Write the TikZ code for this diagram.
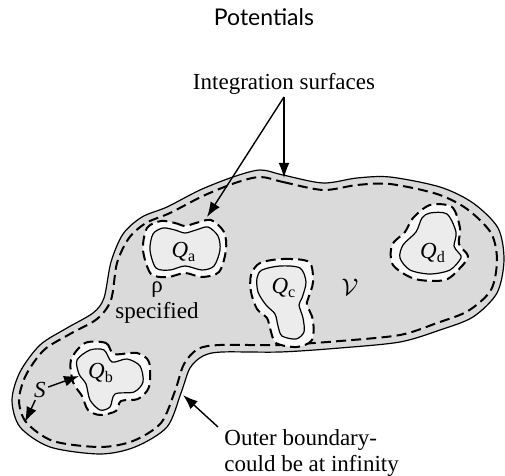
\documentclass[tikz,border=0pt]{standalone}
\usepackage{fontspec}
\setmainfont{Liberation Serif}
\newfontfamily\titlefont{Lato}
\usetikzlibrary{arrows.meta}
\definecolor{region}{gray}{0.855}
\definecolor{hueco}{gray}{0.925}
\definecolor{anillo}{gray}{0.975}

\begin{document}
\begin{tikzpicture}[x=0.5pt,y=-0.5pt,
    borde/.style={line width=0.6pt},
    superficie/.style={line width=1pt,dash pattern=on 5pt off 2.6pt},
    flecha/.style={line width=0.7pt,-{Latex[length=7.5pt,width=5.4pt]}},
    texto/.style={font=\fontsize{11.5}{13}\selectfont,inner sep=1pt}]
    \useasboundingbox (0,0) rectangle (505,476);

    % Titulo
    \node[font=\titlefont\fontsize{11.5}{13}\selectfont] (titulo) at (264,17) {Potentials};

    % Region V y su contorno
    \draw[borde,fill=region] plot[smooth cycle] coordinates {(260,170) (283,175) (323,183) (357,178) (390,177) (440,187) (473,203) (498,228) (504,260) (497,293) (473,317) (440,330) (400,342) (340,348) (280,352) (222,352) (203,356) (190,368) (181,393) (167,427) (135,447) (100,454) (50,447) (20,427) (12,400) (20,372) (40,345) (67,328) (93,313) (104,298) (111,262) (123,234) (142,217) (167,207) (200,190) (233,177)};
    \draw[superficie] plot[smooth cycle] coordinates {(260,177) (283,182) (323,190) (357,185) (390,184) (437,194) (467,209) (491,233) (497,260) (491,290) (468,311) (437,323) (400,335) (340,341) (280,345) (220,345) (198,349) (184,364) (175,391) (161,423) (133,441) (100,447) (53,441) (26,422) (19,400) (26,375) (44,350) (70,334) (97,319) (111,300) (117,263) (129,238) (146,223) (170,213) (203,196) (235,183)};

    % Carga Q_a
    \draw[superficie,fill=anillo] plot[smooth cycle] coordinates {(161,221) (175,223) (185,226) (196,223) (211,220) (224,232) (226,250) (219,272) (202,277) (185,273) (168,277) (151,274) (143,250) (147,228)};
    \draw[borde,fill=hueco] plot[smooth cycle] coordinates {(163,228) (175,230) (185,233) (196,230) (208,227) (218,236) (220,250) (214,266) (202,270) (185,266) (170,270) (156,268) (150,250) (153,234)};
    \node[texto] (qa) at (184,252) {\textit{Q}\textsubscript{a}};

    % Carga Q_b
    \draw[superficie,fill=anillo] plot[smooth cycle] coordinates {(85,343) (106,343) (114,354) (137,353) (149,362) (149,387) (138,399) (121,401) (116,411) (100,415) (88,410) (82,396) (73,382) (71,360)};
    \draw[borde,fill=hueco] plot[smooth cycle] coordinates {(90,350) (104,350) (112,362) (127,359) (140,366) (143,382) (134,392) (115,394) (110,407) (100,410) (90,400) (86,384) (79,374) (77,360)};
    \node[texto] (qb) at (101,373) {\textit{Q}\textsubscript{b}};

    % Carga Q_c
    \draw[superficie,fill=anillo] plot[smooth cycle] coordinates {(260,263) (283,259) (309,262) (313,282) (308,299) (307,305) (313,320) (312,340) (297,347) (276,343) (270,328) (267,318) (257,309) (251,292) (251,275)};
    \draw[borde,fill=hueco] plot[smooth cycle] coordinates {(262,270) (280,266) (300,268) (306,282) (302,298) (299,305) (303,318) (304,332) (296,339) (282,336) (278,326) (275,314) (266,305) (258,292) (257,278)};
    \node[texto] (qc) at (284,288) {\textit{Q}\textsubscript{c}};

    % Carga Q_d
    \draw[superficie,fill=anillo] plot[smooth cycle] coordinates {(430,205) (452,207) (460,228) (459,244) (468,256) (461,267) (445,280) (415,279) (393,265) (392,245) (405,232) (413,218)};
    \draw[borde,fill=hueco] plot[smooth cycle] coordinates {(430,213) (447,214) (456,232) (454,246) (458,252) (461,258) (450,270) (430,274) (410,270) (400,258) (403,245) (416,232) (422,218)};
    \node[texto] (qd) at (433,253) {\textit{Q}\textsubscript{d}};

    % Textos dentro de la region
    \node[texto] (vol) at (350,287) {$\mathcal{V}$};
    \node[texto,align=center] (rho) at (157,303) {ρ\\specified};
    \node[texto] (s) at (40,390) {\textit{S}};

    % Rotulos y flechas
    \node[texto] (integ) at (284,84) {Integration surfaces};
    \coordinate (qatip) at (207,217);
    \coordinate (outtip) at (284,178);
    \draw[flecha] (integ.south) -- (qatip);
    \draw[flecha] (integ.south) -- (outtip);

    \coordinate (qbtip) at (79,376);
    \coordinate (stip) at (25,422);
    \draw[flecha] (s) -- (qbtip);
    \draw[flecha] (s) -- (stip);

    \node[texto,align=left,anchor=north west] (outer) at (222,427) {Outer boundary-\\could be at infinity};
    \coordinate (bordetip) at (183,395);
    \draw[flecha] ([xshift=-2pt]outer.north west) -- (bordetip);
\end{tikzpicture}
\end{document}
